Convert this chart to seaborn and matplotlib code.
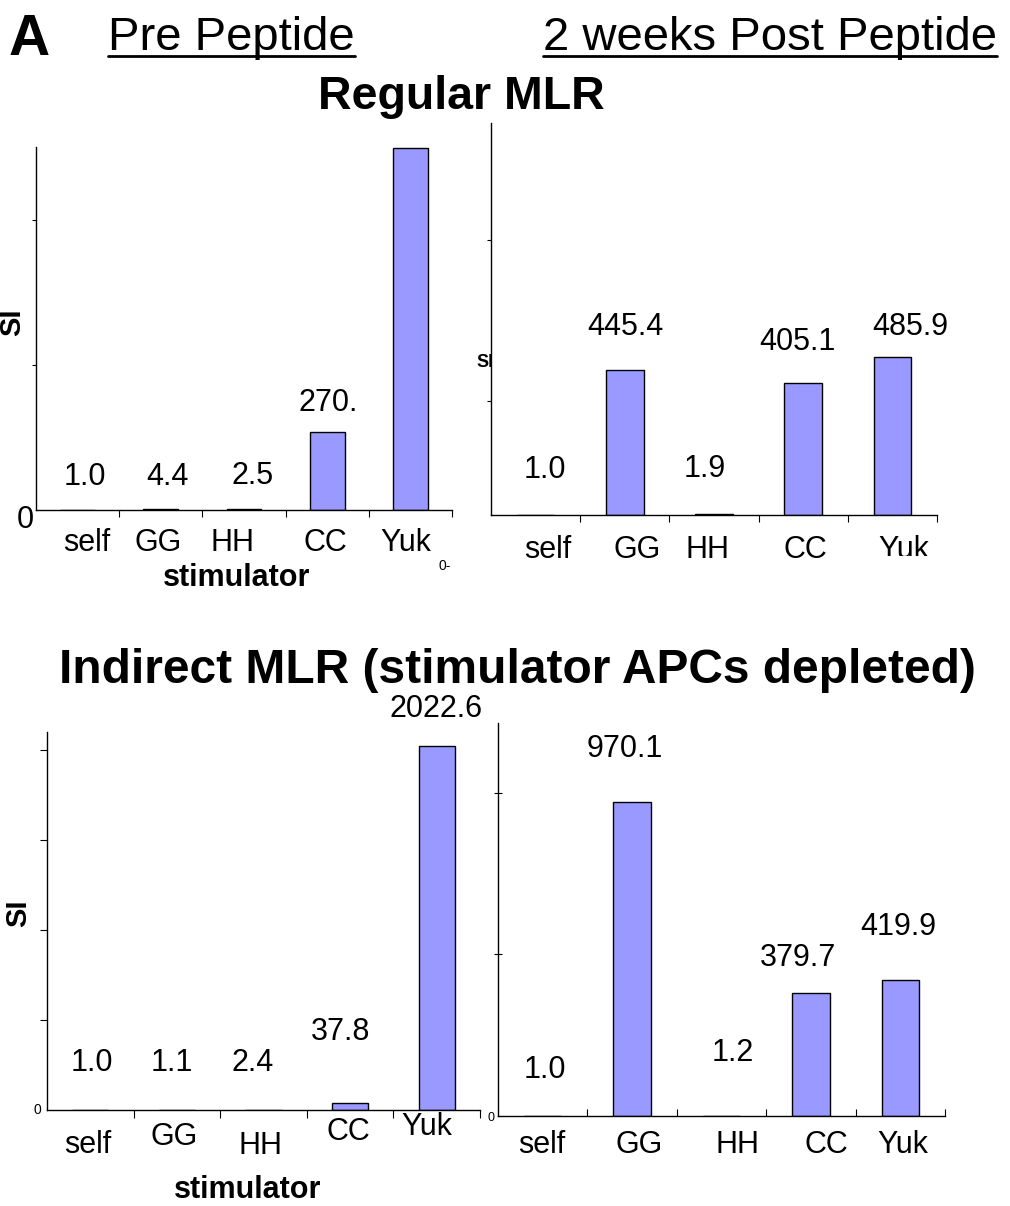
import matplotlib
matplotlib.use("Agg")
import matplotlib.pyplot as plt
import seaborn as sns
import pandas as pd
from matplotlib.patches import Rectangle
from matplotlib.lines import Line2D

# ---------------- data ----------------
stimulators = ["self", "GG", "HH", "CC", "Yuk"]
regular_pre = [1.0, 4.4, 2.5, 270.0, 1245.0]
regular_post = [1.0, 445.4, 1.9, 405.1, 485.9]
indirect_pre = [1.0, 1.1, 2.4, 37.8, 2022.6]
indirect_post = [1.0, 970.1, 1.2, 379.7, 419.9]
regular_pre_labels = ["1.0", "4.4", "2.5", "270.", ""]
regular_post_labels = ["1.0", "445.4", "1.9", "405.1", "485.9"]
indirect_pre_labels = ["1.0", "1.1", "2.4", "37.8", "2022.6"]
indirect_post_labels = ["1.0", "970.1", "1.2", "379.7", "419.9"]

# ---------------- style ----------------
sns.set_style("white")
plt.rcParams["font.family"] = ["Liberation Sans", "DejaVu Sans"]
plt.rcParams["text.color"] = "black"
plt.rcParams["axes.labelcolor"] = "black"
plt.rcParams["xtick.color"] = "black"
plt.rcParams["ytick.color"] = "black"
BAR = "#9999ff"
W, H = 1010, 1206
PX = 0.72  # points per pixel at dpi 100

fig = plt.figure(figsize=(W / 100, H / 100), dpi=100)
fig.patch.set_facecolor("white")


def fx(x):
    return x / W


def fy(y):
    return 1 - y / H


def panel(rect, values, vlabels, ymax, yticks, voff, toff,
          xdir, xlen, ydir, ylen):
    l, t, r, b = rect
    ax = fig.add_axes([l / W, 1 - b / H, (r - l) / W, (b - t) / H])
    ax.set_facecolor("white")
    df = pd.DataFrame({"stimulator": stimulators, "SI": values})
    sns.barplot(data=df, x="stimulator", y="SI", order=stimulators,
                color=BAR, saturation=1, edgecolor="black", linewidth=1.0,
                width=0.42, errorbar=None, ax=ax)
    ax.set_xlim(-0.5, 4.5)
    ax.set_ylim(0, ymax)
    for s in ["top", "right"]:
        ax.spines[s].set_visible(False)
    for s in ["left", "bottom"]:
        ax.spines[s].set_color("black")
        ax.spines[s].set_linewidth(1.0)
    ax.set_xlabel("")
    ax.set_ylabel("")
    ax.set_xticks([0.5, 1.5, 2.5, 3.5, 4.5])
    ax.set_xticklabels([])
    ax.set_yticks(yticks)
    ax.set_yticklabels([])
    ax.tick_params(axis="x", direction=xdir, length=xlen, width=0.8,
                   colors="black", bottom=True)
    ax.tick_params(axis="y", direction=ydir, length=ylen, width=0.8,
                   colors="black", left=True)
    for i, (v, lab, (dx, dy)) in enumerate(zip(values, vlabels, voff)):
        if lab:
            ax.annotate(lab, xy=(i, v), xytext=(dx * PX, dy * PX),
                        textcoords="offset points", ha="center", va="center",
                        fontsize=22, color="black", annotation_clip=False)
    for i, (name, (dx, dy)) in enumerate(zip(stimulators, toff)):
        ax.annotate(name, xy=(i, 0), xytext=(dx * PX, -dy * PX),
                    textcoords="offset points", ha="center", va="center",
                    fontsize=22, color="black", annotation_clip=False)
    return ax


# top-left: Regular MLR, pre peptide
panel((36, 147, 452, 510), regular_pre, regular_pre_labels, 1250, [500, 1000],
      [(7, 33), (7, 32), (9, 33), (1, 29), (0, 30)],
      [(9, 33), (-3, 33), (-11, 33), (-2, 33), (-5, 33)],
      "out", 5, "out", 3)

# top-right: Regular MLR, post peptide
panel((491, 123, 937, 515), regular_post, regular_post_labels, 1205, [350, 845],
      [(9, 45), (1, 43), (-9, 45), (-6, 41), (18, 30)],
      [(12, 35), (12, 35), (-6, 35), (2, 35), (11, 35)],
      "out", 5, "out", 3)

# bottom-left: Indirect MLR, pre peptide
panel((47, 732, 480, 1110), indirect_pre, indirect_pre_labels, 2100,
      [500, 1000, 1500, 2000],
      [(2, 47), (-5, 47), (-11, 47), (-10, 71), (-1, 37)],
      [(-3, 35), (-3, 27), (-3, 36), (-2, 22), (-10, 17)],
      "out", 6, "out", 5)

# bottom-right: Indirect MLR, post peptide
panel((498, 723, 945, 1116), indirect_post, indirect_post_labels, 1215,
      [500, 1000],
      [(2, 46), (-7, 53), (11, 63), (-13, 35), (-2, 53)],
      [(-1, 29), (7, 29), (16, 29), (15, 29), (2, 29)],
      "in", 5, "inout", 6)

# ---------------- headings ----------------
fig.text(fx(9), fy(55), "A", fontsize=41, fontweight="bold",
         ha="left", va="baseline")
t1 = fig.text(fx(108), fy(50), "Pre Peptide", fontsize=34,
              ha="left", va="baseline")
t2 = fig.text(fx(543), fy(50), "2 weeks Post Peptide", fontsize=34,
              ha="left", va="baseline")
fig.text(fx(461), fy(109), "Regular MLR", fontsize=33.5, fontweight="bold",
         ha="center", va="baseline")
fig.text(fx(517), fy(683), "Indirect MLR (stimulator APCs depleted)",
         fontsize=34.5, fontweight="bold", ha="center", va="baseline")

# axis titles
fig.text(fx(12), fy(322), "SI", fontsize=21, fontweight="bold",
         rotation=90, ha="center", va="center")
fig.text(fx(18), fy(913), "SI", fontsize=21, fontweight="bold",
         rotation=90, ha="center", va="center")
fig.text(fx(476), fy(362), "SI", fontsize=13, fontweight="bold",
         ha="left", va="center", zorder=-1)
fig.text(fx(237), fy(578), "stimulator", fontsize=22, fontweight="bold",
         ha="center", va="center")
fig.text(fx(248), fy(1190), "stimulator", fontsize=22, fontweight="bold",
         ha="center", va="center")

# stray zero tick labels
fig.text(fx(25), fy(520), "0", fontsize=22, ha="center", va="center")
fig.text(fx(37), fy(1110), "0", fontsize=10, ha="center", va="center")
fig.text(fx(491), fy(1118), "0", fontsize=9, ha="center", va="center")
fig.text(fx(445), fy(566), "0-", fontsize=10, ha="center", va="center")

# the clipped "Yuk" label in the top-right panel
fig.add_artist(Rectangle((fx(868), fy(585)), (940 - 868) / W, (585 - 556) / H,
                         transform=fig.transFigure, facecolor="white",
                         edgecolor="none", zorder=10))

# underlines for the column headings
fig.canvas.draw()
renderer = fig.canvas.get_renderer()
for t in (t1, t2):
    bb = t.get_window_extent(renderer)
    fig.add_artist(Line2D([bb.x0 / W, bb.x1 / W], [fy(56), fy(56)],
                          transform=fig.transFigure, color="black", lw=2.0))

fig.savefig("out.png", dpi=100)
